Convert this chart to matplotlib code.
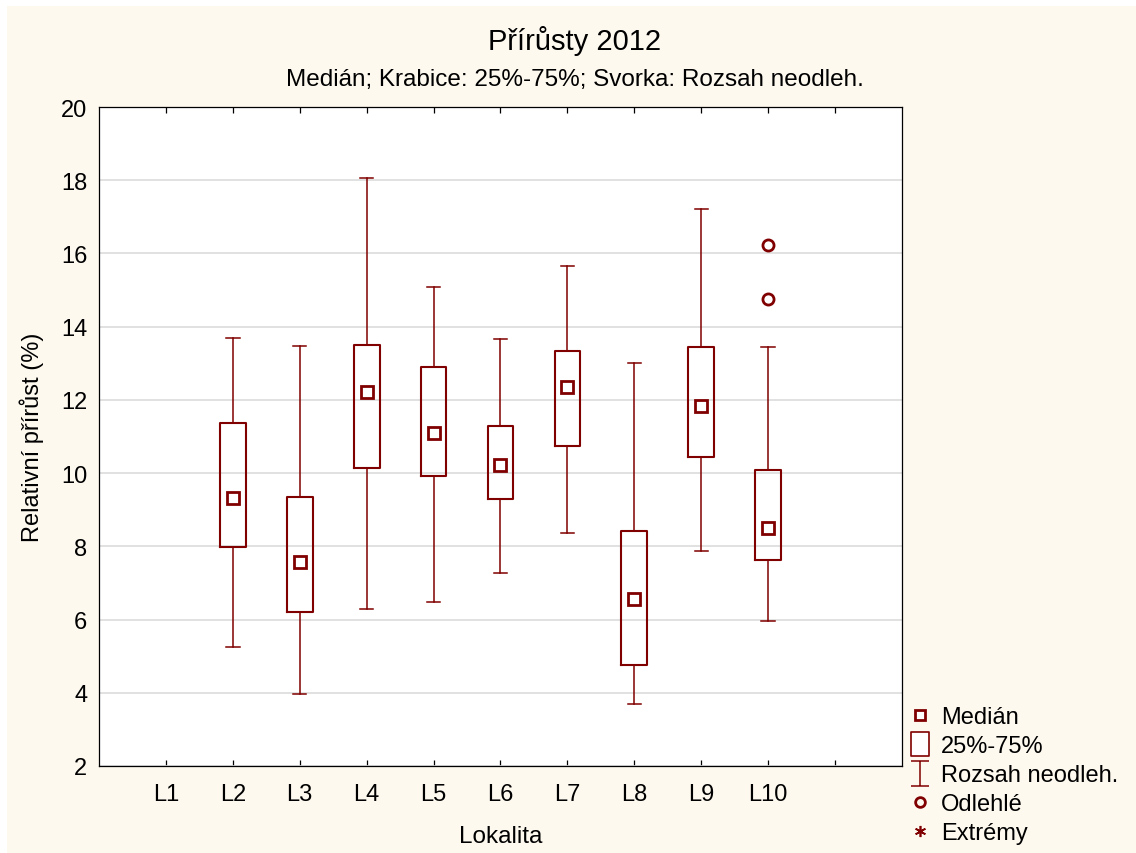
import numpy as np
import matplotlib
matplotlib.use('Agg')
import matplotlib.pyplot as plt
from matplotlib.lines import Line2D
from matplotlib.path import Path
from matplotlib.patches import Rectangle

plt.rcParams['font.family'] = ['Liberation Sans', 'DejaVu Sans']

categories = ['L1', 'L2', 'L3', 'L4', 'L5', 'L6', 'L7', 'L8', 'L9', 'L10']
# L1 has no data
box_labels = ['L2', 'L3', 'L4', 'L5', 'L6', 'L7', 'L8', 'L9', 'L10']
whis_lo = [5.26, 3.97, 6.28, 6.48, 7.26, 8.36, 3.68, 7.88, 5.96]
q1 = [7.98, 6.20, 10.14, 9.92, 9.29, 10.75, 4.77, 10.44, 7.63]
median = [9.33, 7.56, 12.21, 11.10, 10.23, 12.34, 6.55, 11.84, 8.49]
q3 = [11.37, 9.35, 13.50, 12.89, 11.29, 13.34, 8.41, 13.45, 10.09]
whis_hi = [13.68, 13.47, 18.07, 15.08, 13.66, 15.65, 13.02, 17.21, 13.44]
outliers = {'L10': [14.75, 16.23]}

RED = '#800000'
CREAM = '#fdf9ef'

fig = plt.figure(figsize=(11.36, 8.54), dpi=100, facecolor='white')
fig.patches.append(Rectangle((7 / 1136, 0), 1, 1 - 7 / 854, transform=fig.transFigure,
                             facecolor=CREAM, edgecolor='none', zorder=-10))
ax = fig.add_axes([99 / 1136, 1 - 767 / 854, (902 - 99) / 1136, (767 - 108) / 854])
ax.set_facecolor('white')

pos = [categories.index(c) + 1 for c in box_labels]
stats = []
for i, c in enumerate(box_labels):
    stats.append(dict(med=median[i], q1=q1[i], q3=q3[i], whislo=whis_lo[i], whishi=whis_hi[i],
                      fliers=outliers.get(c, [])))
ax.bxp(stats, positions=pos, widths=0.385, capwidths=0.2, showfliers=True,
       boxprops=dict(color=RED, linewidth=1.5),
       whiskerprops=dict(color=RED, linewidth=1.1),
       capprops=dict(color=RED, linewidth=1.1),
       medianprops=dict(visible=False),
       flierprops=dict(marker='o', markersize=8, markerfacecolor='none',
                       markeredgecolor=RED, markeredgewidth=2), zorder=3)
ax.plot(pos, median, 's', ms=8, mfc='white', mec=RED, mew=2, zorder=4)

ax.set_xlim(0, 12)
ax.set_ylim(2, 20)
ax.set_yticks(np.arange(2, 21, 2))
ax.set_xticks(range(1, 12))
ax.set_xticklabels(categories + [''])
ax.tick_params(axis='x', direction='in', length=4, top=True, labelsize=17, pad=12, width=0.9)
ax.tick_params(axis='y', length=0, labelsize=17, pad=8.5)
ax.yaxis.grid(True, color='#dcdcdc', linewidth=1.2)
ax.set_axisbelow(True)
for s in ax.spines.values():
    s.set_linewidth(0.9)

ax.set_xlabel('Lokalita', fontsize=17.5, labelpad=15)
ax.set_ylabel('Relativní přírůst (%)', fontsize=17, labelpad=12)

fig.text(575 / 1136, 1 - 41 / 854, 'Přírůsty 2012', ha='center', va='center', fontsize=21)
fig.text(575 / 1136, 1 - 80 / 854, 'Medián; Krabice: 25%-75%; Svorka: Rozsah neodleh.',
         ha='center', va='center', fontsize=17.5)

# legend symbols
rect_path = Path([(-0.4, -0.5), (0.4, -0.5), (0.4, 0.5), (-0.4, 0.5), (-0.4, -0.5)],
                 [Path.MOVETO, Path.LINETO, Path.LINETO, Path.LINETO, Path.CLOSEPOLY])
whisk_path = Path([(-0.36, 0.5), (0.36, 0.5), (0, 0.5), (0, -0.5), (-0.36, -0.5), (0.36, -0.5)],
                  [Path.MOVETO, Path.LINETO, Path.MOVETO, Path.LINETO, Path.MOVETO, Path.LINETO])
handles = [
    Line2D([], [], ls='none', marker='s', ms=6.5, mfc='white', mec=RED, mew=2),
    Line2D([], [], ls='none', marker=rect_path, ms=17, mfc='white', mec=RED, mew=1.2),
    Line2D([], [], ls='none', marker=whisk_path, ms=18, mfc='none', mec=RED, mew=1.1),
    Line2D([], [], ls='none', marker='o', ms=7, mfc='none', mec=RED, mew=2),
    Line2D([], [], ls='none', marker=(6, 2, 0), ms=8, mec=RED, mew=1.2),
]
labels = ['Medián', '25%-75%', 'Rozsah neodleh.', 'Odlehlé', 'Extrémy']
fig.legend(handles, labels, loc='upper left', bbox_to_anchor=(901 / 1136, 1 - 698 / 854),
           frameon=False, fontsize=17, handlelength=0.8, handletextpad=0.49,
           labelspacing=0.29, borderaxespad=0)

fig.savefig('out.png', dpi=100, facecolor=fig.get_facecolor())
